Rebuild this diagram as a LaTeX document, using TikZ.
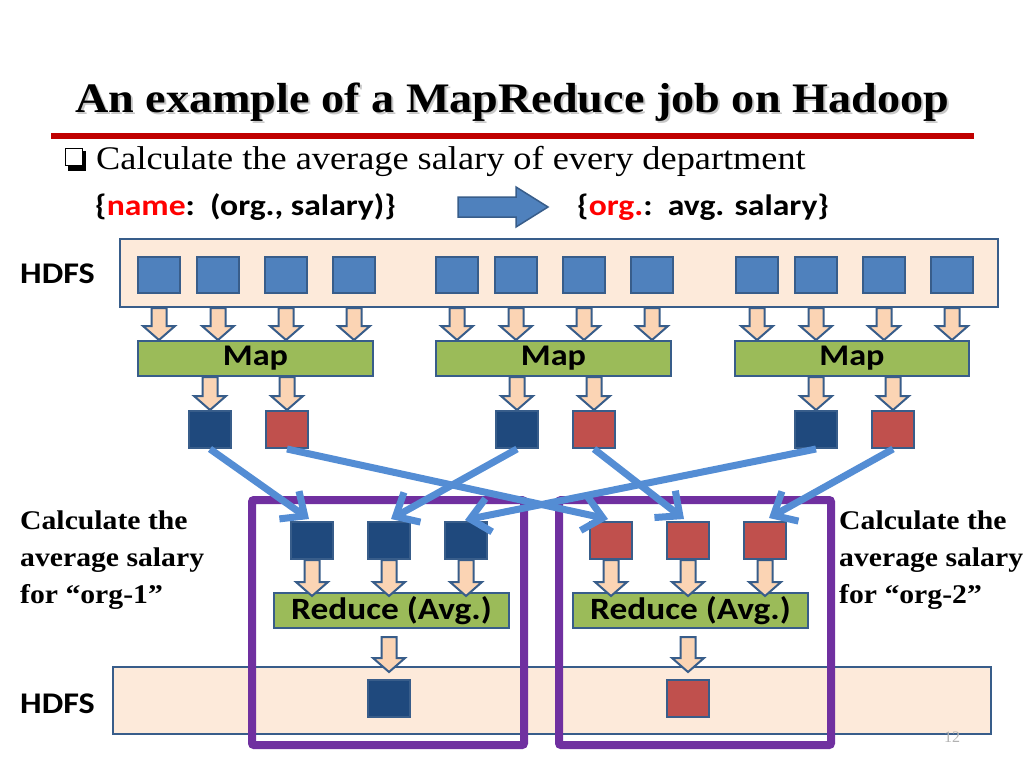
\documentclass[tikz,border=0pt]{standalone}
\usepackage{fontspec}
\setmainfont{Liberation Serif}
\newfontfamily\serifw{Liberation Serif}[FakeStretch=1.1]
\newfontfamily\carl{Carlito}[FakeStretch=1.14]
\usetikzlibrary{arrows.meta,calc}
\definecolor{bord}{RGB}{56,93,138}
\definecolor{hfill}{RGB}{253,234,218}
\definecolor{lblue}{RGB}{79,129,189}
\definecolor{dblue}{RGB}{31,73,125}
\definecolor{rsqc}{RGB}{192,80,77}
\definecolor{mgreen}{RGB}{155,187,89}
\definecolor{peach}{RGB}{251,212,180}
\definecolor{cblue}{RGB}{84,141,212}
\definecolor{purp}{RGB}{112,48,160}
\definecolor{tred}{RGB}{192,0,0}
\definecolor{txtred}{RGB}{255,0,0}
\tikzset{
  hdfsbox/.style={draw=bord, fill=hfill, line width=2pt, inner sep=0, anchor=north west},
  lsq/.style={draw=bord, fill=lblue, line width=2pt, inner sep=0, minimum width=42, minimum height=36, anchor=north west},
  dsq/.style={draw=bord, fill=dblue, line width=2pt, inner sep=0, minimum width=42, minimum height=37, anchor=north west},
  rsq/.style={draw=bord, fill=rsqc, line width=2pt, inner sep=0, minimum width=42, minimum height=37, anchor=north west},
  mapbox/.style={draw=bord, fill=mgreen, line width=2pt, inner sep=0, minimum height=35, anchor=north west, font=\carl\bfseries\fontsize{30}{30}\selectfont},
  grp/.style={draw=purp, line width=8pt, rounded corners=2pt, inner sep=0, anchor=north west},
  barr/.style={draw=bord, fill=peach, line width=2pt, line join=miter},
  conn/.style={draw=cblue, line width=7pt, -{Straight Barb[length=19pt,width=34pt]}},
  lbl/.style={anchor=base west, inner sep=0, font=\carl\bfseries\fontsize{30}{30}\selectfont},
  side/.style={anchor=base west, inner sep=0, font=\serifw\bfseries\fontsize{27}{27}\selectfont},
}
\newcommand\blockarr[2]{%
  \path[barr] let \p1=#1, \p2=#2 in
    (\x1-7.5pt,\y1) -- (\x1+7.5pt,\y1) -- (\x1+7.5pt,\y2+14pt) -- (\x1+16pt,\y2+14pt)
    -- (\x1,\y2) -- (\x1-16pt,\y2+14pt) -- (\x1-7.5pt,\y2+14pt) -- cycle;}
\begin{document}
\begin{tikzpicture}[x=1pt,y=-1pt]
\useasboundingbox[fill=white] (0,0) rectangle (1024,768);

% title
\node[anchor=base, inner sep=0, text=black!22, font=\serifw\bfseries\fontsize{42}{42}\selectfont] (titsh) at (514,114) {An example of a MapReduce job on Hadoop};
\node[anchor=base, inner sep=0, font=\serifw\bfseries\fontsize{42}{42}\selectfont] (title) at (512,112) {An example of a MapReduce job on Hadoop};
\draw[tred, line width=6pt] (51,136) -- (974,136);

% bullet
\fill[black] (68,151) rectangle (86,171);
\node[draw=black, fill=white, line width=1pt, minimum size=17, inner sep=0, anchor=north west] (bul) at (65,148) {};
\node[anchor=base west, inner sep=0, font=\serifw\fontsize{33}{33}\selectfont] (bt) at (96,169) {Calculate the average salary of every department};

\node[anchor=base west, inner sep=0, font=\carl\bfseries\fontsize{29.5}{29.5}\selectfont] (inrec) at (95,215) {\{\textcolor{txtred}{name}:~~(org., salary)\}};
\node[anchor=base west, inner sep=0, font=\carl\bfseries\fontsize{29.5}{29.5}\selectfont] (outrec) at (577,215) {\{\textcolor{txtred}{org.}:~~avg. salary\}};
\draw[draw=bord, fill=lblue, line width=1.5pt] (458,197) -- (516,197) -- (516,187) -- (548,207) -- (516,227) -- (516,217) -- (458,217) -- cycle;

% top HDFS
\node[lbl] (hdfsl1) at (20,283) {HDFS};
\node[hdfsbox, minimum width=878, minimum height=68] (hdfs1) at (119,238) {};
\foreach \g/\gx in {0/136,1/434,2/734}{
  \foreach \i/\dx in {1/0,2/59,3/127,4/195}{
    \node[lsq] (s\g\i) at (\gx+\dx+1,256) {};
  }
}
% maps
\node[mapbox, minimum width=235] (map0) at (137,340) {Map};
\node[mapbox, minimum width=235] (map1) at (435,340) {Map};
\node[mapbox, minimum width=234] (map2) at (734,340) {Map};
\foreach \g in {0,1,2}{
  \foreach \i in {1,2,3,4}{
    \blockarr{(s\g\i.south |- hdfs1.south)}{(s\g\i.south |- map\g.north)}
  }
}
% map outputs
\node[dsq] (d0) at (188,410) {};
\node[rsq] (r0) at (265,410) {};
\node[dsq] (d1) at (495,410) {};
\node[rsq] (r1) at (572,410) {};
\node[dsq] (d2) at (794,410) {};
\node[rsq] (r2) at (871,410) {};
\foreach \aa/\bb in {d0/map0,r0/map0,d1/map1,r1/map1,d2/map2,r2/map2}{
  \blockarr{(\aa.north |- \bb.south)}{(\aa.north)}
}

% bottom HDFS
\node[lbl] (hdfsl2) at (20,713) {HDFS};
\node[hdfsbox, minimum width=878, minimum height=67] (hdfs2) at (112,666) {};
\node[dsq] (f0) at (367,679) {};
\node[rsq] (f1) at (666,679) {};

% reduce groups
\node[grp, minimum width=272, minimum height=245] (g0) at (248,496) {};
\node[grp, minimum width=272, minimum height=245] (g1) at (555,496) {};

\node[dsq] (a1) at (290,521) {};
\node[dsq] (a2) at (367,521) {};
\node[dsq] (a3) at (444,521) {};
\node[rsq] (b1) at (589,521) {};
\node[rsq] (b2) at (666,521) {};
\node[rsq] (b3) at (743,521) {};

\node[mapbox, minimum width=235, font=\carl\bfseries\fontsize{31}{31}\selectfont] (red0) at (273,592) {Reduce (Avg.)};
\node[mapbox, minimum width=235, font=\carl\bfseries\fontsize{31}{31}\selectfont] (red1) at (572,592) {Reduce (Avg.)};

\foreach \aa/\bb in {a1/red0,a2/red0,a3/red0,b1/red1,b2/red1,b3/red1}{
  \blockarr{(\aa.south)}{($(\bb.north -| \aa.south)+(0,4)$)}
}
\blockarr{($(red0.south -| f0.north)+(0,8)$)}{($(f0.north)+(0,-7)$)}
\blockarr{($(red1.south -| f1.north)+(0,8)$)}{($(f1.north)+(0,-7)$)}

% shuffle connectors
\draw[conn] (d0.south) -- ($(a1.north)+(-3,-2)$);
\draw[conn] (r0.south) -- ($(b1.north)+(-3,-2)$);
\draw[conn] (d1.south) -- ($(a2.north)+(2,-2)$);
\draw[conn] (r1.south) -- ($(b2.north)+(-4,-2)$);
\draw[conn] (d2.south) -- ($(a3.north)+(-1,-1)$);
\draw[conn] (r2.south) -- ($(b3.north)+(4,-3)$);

% side labels
\node[side] (lt1) at (20,529) {Calculate the};
\node[side] (lt2) at (20,566) {average salary};
\node[side] (lt3) at (20,603) {for “org-1”};
\node[side] (rt1) at (839,529) {Calculate the};
\node[side] (rt2) at (839,566) {average salary};
\node[side] (rt3) at (839,603) {for “org-2”};

\node[anchor=base, inner sep=0, text=black!30, font=\fontsize{16}{16}\selectfont] (pg) at (952,742) {12};
\end{tikzpicture}
\end{document}
